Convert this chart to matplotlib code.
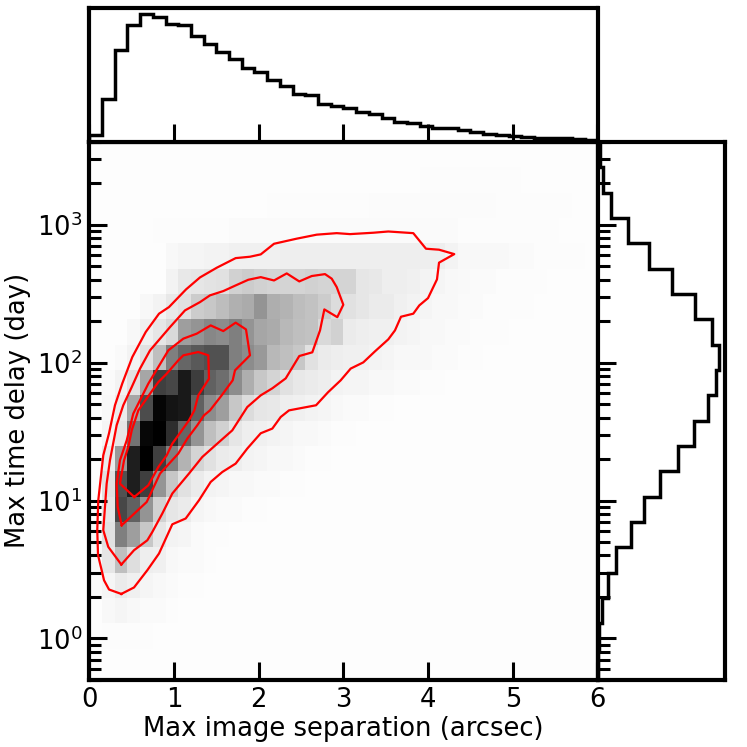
import numpy as np
import matplotlib
matplotlib.use("Agg")
import matplotlib.pyplot as plt
from matplotlib.ticker import LogLocator, NullFormatter, LogFormatterMathtext

# ---- data -----
sep_edges = np.linspace(0, 6, 41)
log_delay_edges = 3.6 - 0.1837 * np.arange(23)

sep_hist = [7, 43, 92, 117, 128, 125, 118, 117, 106, 98, 90, 83, 74, 70, 62, 56, 48, 47, 38, 36,
            33.5, 29.4, 27.7, 23.4, 20, 19, 15.7, 13.7, 13.3, 11.7, 9.7, 7.7, 6.3, 5.3, 5, 4, 3.7, 3.3, 2.7, 2]
delay_hist = [2, 5, 13.5, 30, 51.5, 74.5, 97.5, 114, 121, 118, 110, 96, 80, 62.5, 46, 33, 18.5, 10, 4.8, 1.3, 0.6, 0.2]

# darkness (percent) per row from the top of the y range, columns from sep=0
density_rows = [
    [],
    [1]*26 + [1.3]*8,
    [1]*14 + [1.3]*8 + [1.6]*10 + [1.3]*6,
    [1, 1, 1, 1, 1, 1.3, 1.5, 1.5, 1.5, 1.5, 1.5, 2, 2, 2, 2, 2, 2, 2, 2, 2, 2, 2, 2, 2, 2, 2, 2, 2, 2, 1.5, 1.5, 1.5, 1.5, 1.5, 1.3, 1.3, 1.3],
    [1, 1, 1, 1, 1, 1, 3, 4, 4, 5, 5, 6, 6, 6, 6, 7, 7, 7, 7, 7, 7, 7, 7, 7, 7, 7, 7, 7, 5, 3, 3, 3, 3, 2, 2, 1.5, 1.5, 1.3, 1.3],
    [1, 1, 1, 1, 1, 1, 5, 9, 10, 11, 12, 18, 20, 18, 17, 17, 17, 18, 17, 17, 17, 10, 9, 7, 7, 6, 5, 4, 3, 2.5, 2, 2, 1.5, 1.5, 1.3, 1.3],
    [1, 1, 1, 1, 3, 5, 9, 12, 20, 22, 26, 31, 33, 42, 32, 30, 26, 24, 20, 14, 12, 10, 8, 8, 6, 5, 4, 3, 3, 2, 2, 1.5, 1.5, 1.3, 1.3],
    [1, 1, 1, 3, 6, 10, 15, 38, 42, 47, 45, 50, 42, 35, 33, 28, 25, 24, 15, 18, 8, 7, 6, 6, 5, 4, 3, 3, 2, 2, 1.5, 1.5, 1.3],
    [1, 1, 2, 5, 12, 25, 50, 60, 65, 68, 68, 50, 45, 40, 28, 25, 22, 12, 8, 7, 6, 6, 5, 4, 3, 3, 3, 2, 2, 1.5, 1.3],
    [1, 2, 5, 12, 35, 75, 72, 90, 76, 62, 57, 45, 32, 22, 17, 12, 9, 8, 7, 5, 4, 4, 3, 3, 2, 2, 1.5, 1.3],
    [1, 3, 8, 35, 70, 98, 92, 90, 62, 45, 38, 22, 14, 10, 9, 7, 6, 5, 4, 3, 2, 2, 1.5, 1.3],
    [1, 4, 10, 55, 97, 100, 82, 60, 42, 25, 18, 10, 7, 6, 5, 4, 3, 3, 2, 1.5, 1.3],
    [1, 8, 40, 88, 100, 75, 50, 30, 17, 12, 8, 7, 5, 4, 3, 3, 2, 1.5, 1.3],
    [1, 12, 68, 88, 75, 42, 22, 12, 8, 5, 4, 3, 3, 2, 2, 1.5, 1.3],
    [1, 10, 72, 62, 42, 18, 10, 8, 4, 3, 2, 2, 1.5, 1.3],
    [3, 12, 50, 38, 22, 10, 5, 4, 2, 1.5, 1.3],
    [3, 10, 25, 13, 7, 6, 3, 2, 2, 1.3],
    [2, 4, 8, 6, 4, 3, 2, 1.5, 1.3],
    [1, 3, 4, 3, 2, 2, 1.3],
    [1, 1.5, 1.5, 1.5, 1.3],
    [1],
    [1],
]
density_floor = 1

contour1_sep = [.378, .233, .174, .146, .103, .094, .106, .165, .233, .303, .390, .508, .666, .823, .941, 1.142, 1.307,
                1.504, 1.728, 1.897, 2.024, 2.181, 2.449, 2.685, 2.921, 3.078, 3.353, 3.530, 3.825, 3.975, 4.129, 4.309,
                4.129, 4.105, 3.999, 3.896, 3.825, 3.680, 3.609, 3.530, 3.373, 3.235, 3.086, 2.968, 2.818, 2.677, 2.358,
                2.260, 2.161, 2.024, 1.865, 1.728, 1.570, 1.433, 1.295, 1.138, .980, .823, .685, .528, .378]
contour1_logt = [.323, .355, .422, .495, .604, .785, 1.002, 1.328, 1.488, 1.691, 1.850, 2.041, 2.222, 2.355, 2.403, 2.531, 2.618,
                 2.688, 2.758, 2.768, 2.785, 2.862, 2.899, 2.928, 2.939, 2.932, 2.942, 2.951, 2.939, 2.826, 2.819, 2.787,
                 2.725, 2.604, 2.468, 2.415, 2.355, 2.333, 2.234, 2.169, 2.082, 2.002, 1.957, 1.872, 1.785, 1.691, 1.654,
                 1.606, 1.522, 1.488, 1.377, 1.268, 1.207, 1.135, 1.002, .870, .828, .616, .495, .370, .323]

contour2_sep = [.378, .224, .165, .205, .244, .323, .401, .501, .599, .717, .953, 1.130, 1.307, 1.425, 1.582, 1.728, 1.877,
                2.024, 2.181, 2.331, 2.479, 2.626, 2.783, 2.862, 2.921, 2.999, 2.928, 2.775, 2.724, 2.633, 2.479, 2.319,
                2.161, 2.024, 1.865, 1.688, 1.511, 1.334, 1.177, .980, .862, .744, .685, .528, .378]
contour2_logt = [.536, .664, .785, 1.123, 1.292, 1.546, 1.691, 1.823, 1.957, 2.089, 2.258, 2.379, 2.439, 2.488, 2.519, 2.560, 2.601,
                 2.620, 2.596, 2.647, 2.589, 2.628, 2.642, 2.609, 2.548, 2.420, 2.330, 2.386, 2.234, 2.075, 2.048, 1.886,
                 1.814, 1.763, 1.678, 1.509, 1.413, 1.316, 1.196, 1.051, .906, .772, .712, .640, .536]

contour3_sep = [.383, .335, .323, .362, .442, .519, .697, .933, 1.110, 1.268, 1.433, 1.582, 1.728, 1.850, 1.897, 1.720, 1.693,
                1.563, 1.425, 1.354, 1.275, 1.157, 1.051, .835, .678, .383]
contour3_logt = [.821, .954, 1.123, 1.292, 1.437, 1.630, 1.848, 2.089, 2.174, 2.210, 2.270, 2.229, 2.290, 2.241, 2.053, 1.944, 1.872,
                 1.763, 1.654, 1.618, 1.546, 1.449, 1.341, 1.196, .990, .821]

contour4_sep = [.531, .362, .410, .460, .501, .579, .717, .815, .914, 1.051, 1.110, 1.287, 1.405, 1.413, 1.287, 1.240, 1.177,
                1.079, .980, .914, .815, .697, .531]
contour4_logt = [1.026, 1.123, 1.292, 1.388, 1.509, 1.654, 1.775, 1.859, 1.920, 2.017, 2.053, 2.077, 2.053, 1.884, 1.763, 1.654, 1.582,
                 1.497, 1.413, 1.328, 1.243, 1.111, 1.026]

x_label = "Max image separation (arcsec)"
y_label = "Max time delay (day)"

# ---- figure -----
W, H = 747.0, 747.0
fig = plt.figure(figsize=(7.47, 7.47), dpi=100)


def box(l, t, r, b):
    return [l / W, 1 - b / H, (r - l) / W, (b - t) / H]


ax = fig.add_axes(box(89.3, 141.7, 597.5, 680))
ax_top = fig.add_axes(box(89.3, 8, 597.5, 141.7))
ax_right = fig.add_axes(box(597.5, 141.7, 724.5, 680))

SPINE = 3.0
LINE = 2.5
FS = 18.6

delay_edges = 10.0 ** log_delay_edges
density = np.full((len(density_rows), 40), float(density_floor))
for i, row in enumerate(density_rows):
    density[i, :len(row)] = row
ax.pcolormesh(sep_edges, delay_edges, density, cmap="gray_r", vmin=0, vmax=100, shading="flat", rasterized=True)

for cx, cy in [(contour1_sep, contour1_logt), (contour2_sep, contour2_logt),
               (contour3_sep, contour3_logt), (contour4_sep, contour4_logt)]:
    ax.plot(cx, 10.0 ** np.array(cy), color="red", lw=1.6)

ax.set_yscale("log")
ax.set_xlim(0, 6)
ax.set_ylim(0.5, 4000)
ax.set_xlabel(x_label, fontsize=FS, labelpad=2)
ax.set_ylabel(y_label, fontsize=FS, labelpad=4)

ax_top.stairs(sep_hist, sep_edges, color="black", lw=LINE, baseline=0)
ax_top.set_xlim(0, 6)
ax_top.set_ylim(0, 133.7)
ax_top.set_yticks([])

ax_right.stairs(delay_hist[::-1], delay_edges[::-1], orientation="horizontal", color="black", lw=LINE, baseline=0)
ax_right.set_yscale("log")
ax_right.set_ylim(0.5, 4000)
ax_right.set_xlim(0, 127)
ax_right.set_xticks([])

for a in (ax, ax_top, ax_right):
    for s in a.spines.values():
        s.set_linewidth(SPINE)
    a.tick_params(which="major", direction="in", length=13, width=2.2, labelsize=FS, pad=5)
    a.tick_params(which="minor", direction="in", length=8.5, width=2.2)

for a in (ax, ax_right):
    a.yaxis.set_major_locator(LogLocator(base=10, numticks=10))
    a.yaxis.set_minor_locator(LogLocator(base=10, subs=np.arange(2, 10) * 0.1 * 10, numticks=12))
    a.yaxis.set_minor_formatter(NullFormatter())
ax.yaxis.set_major_formatter(LogFormatterMathtext())
ax_top.tick_params(labelbottom=False)
ax_right.tick_params(which="both", labelleft=False)
ax_top.set_xticks(range(0, 7))
ax.set_xticks(range(0, 7))

fig.savefig("out.png", dpi=100)
